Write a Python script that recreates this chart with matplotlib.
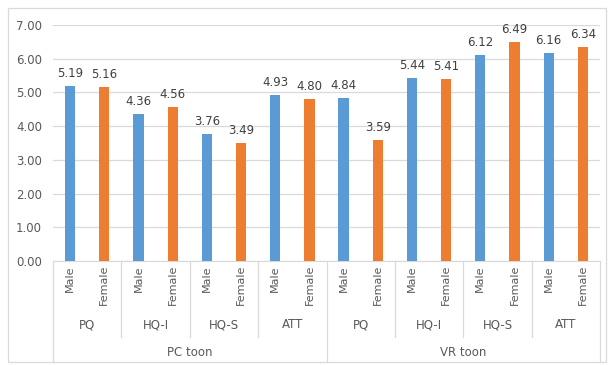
import numpy as np
import matplotlib.pyplot as plt
from matplotlib.patches import Rectangle

genders = ["Male", "Female"] * 8
measures = ["PQ", "HQ-I", "HQ-S", "ATT"]
conditions = ["PC toon", "VR toon"]
values = [5.19, 5.16, 4.36, 4.56, 3.76, 3.49, 4.93, 4.80,
          4.84, 3.59, 5.44, 5.41, 6.12, 6.49, 6.16, 6.34]

blue = "#5B9BD5"
orange = "#ED7D31"
txt = "#595959"
line = "#D9D9D9"

fig = plt.figure(figsize=(6.1, 3.65), dpi=100)
ax = fig.add_axes([53 / 610, 1 - 261 / 365, 547 / 610, 236 / 365])

x = np.arange(len(values))
colors = [blue if g == "Male" else orange for g in genders]
bars = ax.bar(x, values, width=0.3, color=colors, zorder=3)
for xi, v in zip(x, values):
    ax.text(xi, v + 0.18, f"{v:.2f}", ha="center", va="bottom", fontsize=8.5, color="#404040")

ax.set_xlim(-0.5, len(values) - 0.5)
ax.set_ylim(0, 7)
ax.set_yticks(np.arange(0, 8, 1))
ax.set_yticklabels([f"{t:.2f}" for t in range(8)], fontsize=8.5, color=txt)
ax.tick_params(axis="y", length=0, pad=8)
ax.set_xticks([])
ax.grid(axis="y", color=line, linewidth=0.9, zorder=0)
for s in ["top", "right", "left"]:
    ax.spines[s].set_visible(False)
ax.spines["bottom"].set_color(line)

# multi-level category axis
trans = ax.get_xaxis_transform()
px = 1 / 236  # one pixel in axes y units
for xi, g in zip(x, genders):
    ax.text(xi, -4 * px, g, rotation=90, ha="center", va="top", fontsize=8, color=txt,
            transform=trans, clip_on=False)
for i, m in enumerate(measures * 2):
    ax.text(2 * i + 0.5, -64 * px, m, ha="center", va="center", fontsize=8.5, color=txt,
            transform=trans, clip_on=False)
for i, c in enumerate(conditions):
    ax.text(8 * i + 3.5, -91 * px, c, ha="center", va="center", fontsize=8.5, color=txt,
            transform=trans, clip_on=False)
for b in np.arange(-0.5, len(values), 2):
    bottom = -101 * px if (b + 0.5) % 8 == 0 else -76 * px
    ax.plot([b, b], [0, bottom], color=line, linewidth=0.9, transform=trans, clip_on=False)

fig.patches.append(Rectangle((8 / 610, 3 / 365), 598 / 610, 354 / 365, transform=fig.transFigure,
                             fill=False, edgecolor=line, linewidth=0.9))

fig.savefig("out.png", dpi=100)
